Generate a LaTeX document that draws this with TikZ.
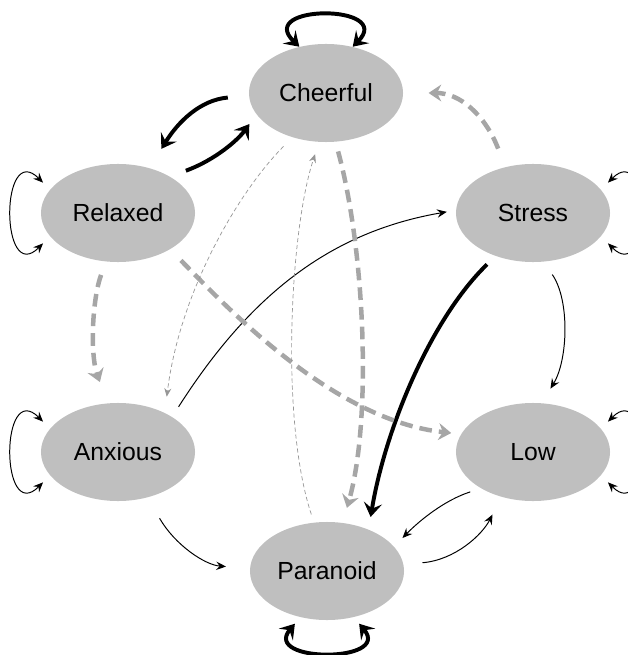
\documentclass[tikz,border=0pt]{standalone}
\usepackage{fontspec}
\setmainfont{Liberation Sans}
\usetikzlibrary{arrows.meta,shapes.geometric}
\definecolor{moodfill}{RGB}{191,191,191}
\definecolor{dashgrey}{RGB}{166,166,166}
\definecolor{faintgrey}{RGB}{150,150,150}
\tikzset{mood/.style={shape=ellipse,fill=moodfill,minimum width=3.85cm,minimum height=2.45cm,inner sep=0pt,font=\fontsize{17.6}{21}\selectfont}}

\begin{document}
\begin{tikzpicture}[x=0.025cm,y=-0.025cm]

\tikzset{strong/.style={black,line width=2.8pt,-{Stealth[length=10pt,width=13pt,inset=4pt]}},
strongloop/.style={black,line width=2.8pt,{Stealth[length=10pt,width=13pt,inset=4pt]}-{Stealth[length=10pt,width=13pt,inset=4pt]}},
weak/.style={black,line width=0.7pt,-{Stealth[length=7pt,width=6pt,inset=2.5pt]}},
weakloop/.style={black,line width=0.7pt,{Stealth[length=7pt,width=6pt,inset=2.5pt]}-{Stealth[length=7pt,width=6pt,inset=2.5pt]}},
greydash/.style={dashgrey,line width=3.2pt,dash pattern=on 9pt off 5pt,-{Stealth[length=9pt,width=12pt,inset=3pt]}},
greyfaint/.style={faintgrey,line width=0.5pt,dash pattern=on 3pt off 2pt,-{Stealth[length=6pt,width=5pt,inset=2pt]}}}

\useasboundingbox (0,0) rectangle (628,655);
\clip (0,0) rectangle (628,655);

% Nodes
\node[mood] (cheerful) at (326,93) {Cheerful};
\node[mood] (relaxed) at (118,213) {Relaxed};
\node[mood] (stress) at (533,213) {Stress};
\node[mood] (anxious) at (118,452) {Anxious};
\node[mood] (low) at (533,452) {Low};
\node[mood] (paranoid) at (327,571) {Paranoid};

% Self loops
\draw[strongloop] (cheerful.120) .. controls (255,4) and (395,4) .. (cheerful.60);
\draw[strongloop,shorten <=6pt,shorten >=6pt] (paranoid.240) .. controls (262,663) and (392,663) .. (paranoid.300);
\foreach \n in {relaxed,anxious} \draw[weakloop,shorten <=7pt,shorten >=7pt] (\n.161) .. controls +(-50,-50) and +(-50,50) .. (\n.199);
\foreach \n in {stress,low} \draw[weakloop,shorten <=7pt,shorten >=7pt] (\n.19) .. controls +(50,-50) and +(50,50) .. (\n.-19);

% Black transitions
\draw[strong,shorten <=15pt,shorten >=16pt] (cheerful.182) .. controls (200,100) and (178,122) .. (relaxed.55);
\draw[strong,shorten <=12pt,shorten >=8.5pt] (relaxed.35) .. controls (215,160) and (238,140) .. (cheerful.197);
\draw[strong,shorten <=8.5pt,shorten >=9pt] (stress.229) .. controls (430,320) and (385,430) .. (paranoid.45);
\draw[weak,shorten <=8.5pt,shorten >=6.5pt] (anxious.33) .. controls (250,295) and (330,232) .. (stress.178);
\draw[weak,shorten <=11pt,shorten >=12pt] (stress.-78) .. controls (570,300) and (568,360) .. (low.80);
\draw[weak,shorten <=8pt,shorten >=8.5pt] (low.215) .. controls (445,500) and (420,520) .. (paranoid.20);
\draw[weak,shorten <=13.5pt,shorten >=14pt] (paranoid.5) .. controls (455,560) and (482,535) .. (low.235);
\draw[weak,shorten <=17pt,shorten >=17pt] (anxious.-57) .. controls (175,545) and (205,565) .. (paranoid.178);

% Grey transitions
\draw[greydash,shorten <=14pt,shorten >=18pt] (stress.121) .. controls (485,115) and (460,93) .. (cheerful.0);
\draw[greydash,shorten <=7pt,shorten >=11pt] (cheerful.281) .. controls (365,250) and (372,420) .. (paranoid.72);
\draw[greydash,shorten <=10pt,shorten >=16pt] (relaxed.256) .. controls (92,300) and (90,355) .. (anxious.102);
\draw[greydash,shorten <=11pt,shorten >=7pt] (relaxed.-35) .. controls (220,300) and (330,420) .. (low.166);
\draw[greyfaint,shorten <=9pt,shorten >=11.5pt] (cheerful.233) .. controls (240,190) and (180,290) .. (anxious.40);
\draw[greyfaint,shorten <=6pt,shorten >=9pt] (paranoid.105) .. controls (280,420) and (290,230) .. (cheerful.262);

\end{tikzpicture}
\end{document}
